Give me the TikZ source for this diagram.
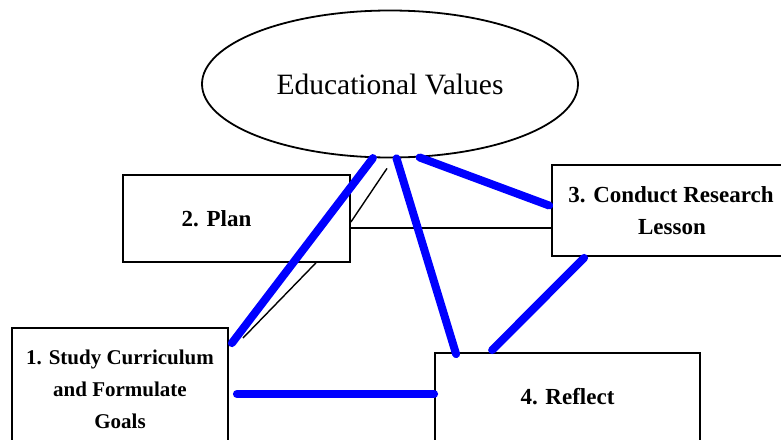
\documentclass[tikz,border=0pt]{standalone}
\usepackage{fontspec}
\setmainfont{Liberation Serif}
\usepackage{tikz}
\usetikzlibrary{shapes.geometric,calc}

\begin{document}
\begin{tikzpicture}[x=1pt,y=-1pt]
                \tikzstyle{stage} = [rectangle, draw, line width=1.8pt, inner sep=0pt, align=center, font=\bfseries\fontsize{23}{32}\selectfont]
                \tikzstyle{link} = [blue, line width=8pt, line cap=round]
                \tikzstyle{thinlink} = [black, line width=1.4pt]
                \useasboundingbox (0,0) rectangle (781,439);
                \node[ellipse, draw, line width=1.8pt, minimum width=376pt, minimum height=147pt, inner sep=0pt, font=\fontsize{29.5}{32}\selectfont] (ev) at (390,84) {Educational Values};
                \node[stage, minimum width=227pt, minimum height=87pt] (plan) at (236.5,218.5) {2. Plan\hspace*{40pt}};
                \node[stage, minimum width=240pt, minimum height=91pt] (conduct) at (672,210.5) {\hspace*{-2pt}3. Conduct Research\\Lesson};
                \node[stage, minimum width=216pt, minimum height=122pt, font=\bfseries\fontsize{21}{32}\selectfont] (study) at (120,389) {1. Study Curriculum\\and Formulate\\Goals};
                \node[stage, minimum width=265pt, minimum height=88pt] (reflect) at (567.5,397) {4. Reflect};
                % thin black lines
                \draw[thinlink] ($(ev.south)+(-3,10)$) -- ($(plan.east)+(0,3.5)$);
                \draw[thinlink] ($(plan.east)+(0,9.5)$) -- ($(conduct.west)+(0,17.5)$);
                \draw[thinlink] ($(plan.south east)+(-35,0)$) -- ($(study.north east)+(14,11)$);
                % thick blue lines
                \draw[link] (ev.257) -- ($(study.north east)+(3,16)$);
                \draw[link] (ev.275.5) -- ($(reflect.north west)+(22,2)$);
                \draw[link] (ev.292) -- ($(conduct.west)+(-2,-5)$);
                \draw[link] ($(conduct.south west)+(33,1)$) -- ($(reflect.north west)+(58,-2)$);
                \draw[link] ($(study.east)+(8,5)$) -- ($(reflect.west)+(0,-3)$);
            \end{tikzpicture}
\end{document}
